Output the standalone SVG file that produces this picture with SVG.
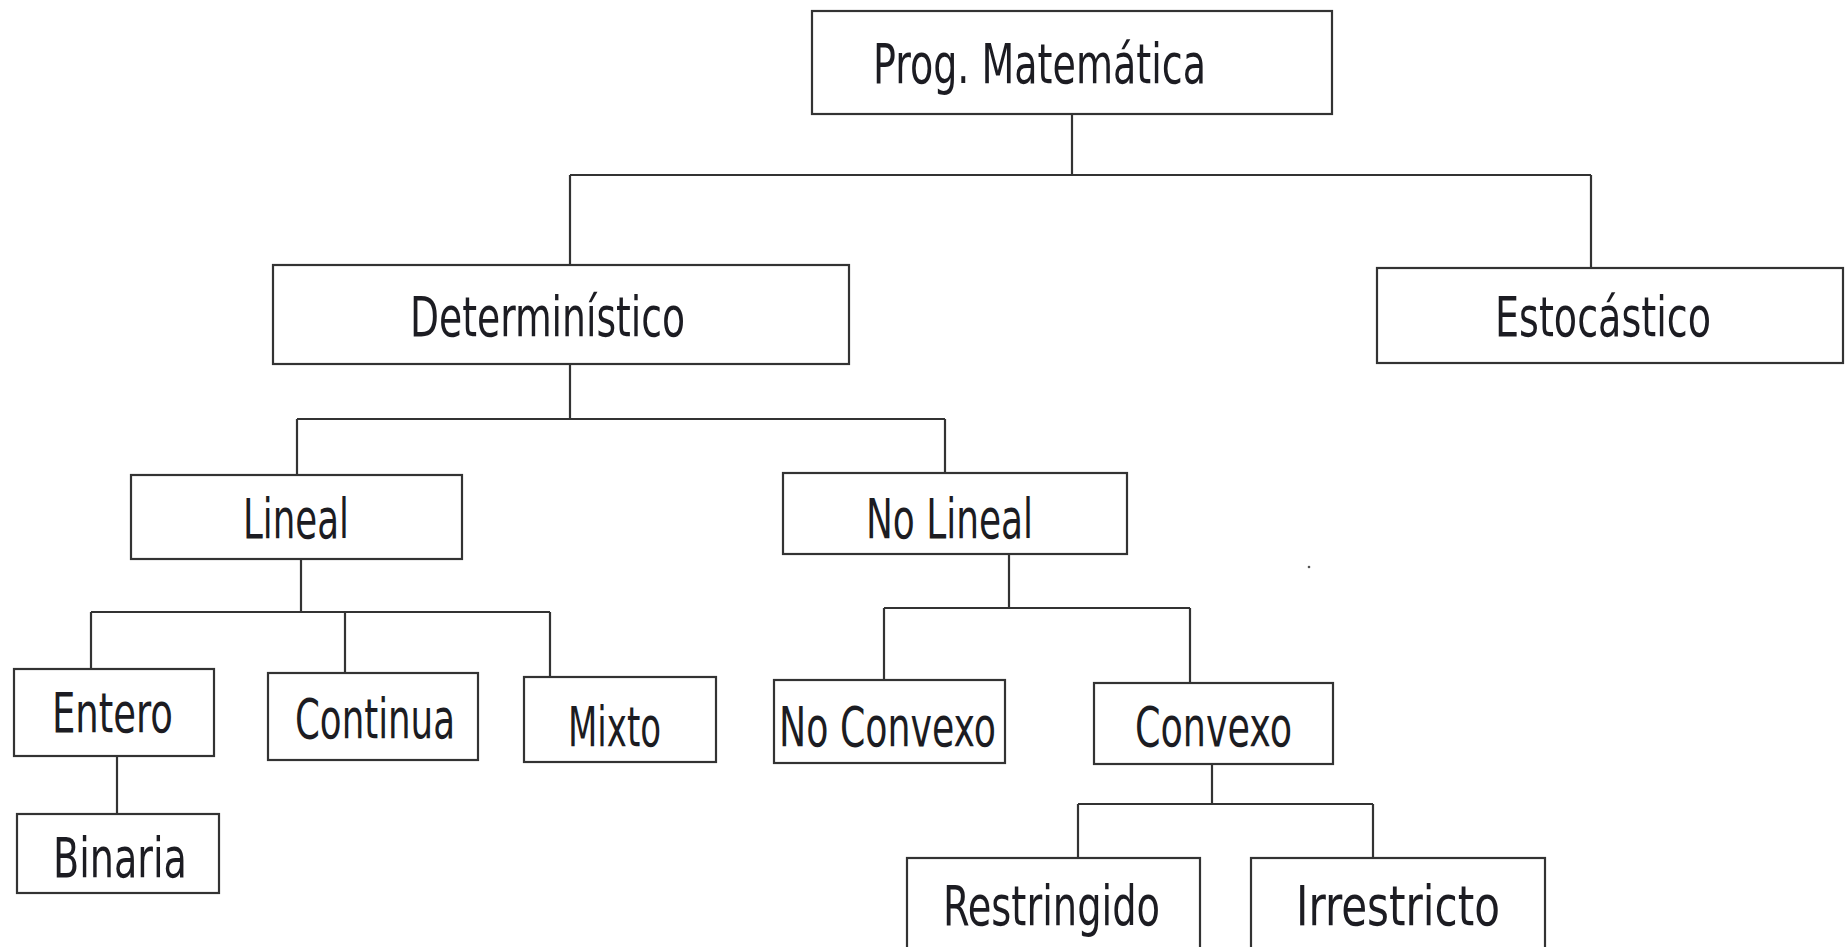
<svg xmlns="http://www.w3.org/2000/svg" width="1845" height="947" viewBox="0 0 1845 947">
<style>
.box{fill:#fff;stroke:#333;stroke-width:2.2}
.lbl{font-family:"DejaVu Sans Condensed","DejaVu Sans","Liberation Sans",sans-serif;font-stretch:condensed;font-size:56px;fill:#1c1c22}
.c{fill:none;stroke:#333;stroke-width:2.2}
</style>
<rect x="0" y="0" width="1845" height="947" fill="#fff"/>
<g id="connectors">
<path class="c" d="M1072 114V175M570 175H1591M570 175V265M1591 175V268"/>
<path class="c" d="M570 364V419M297 419H945M297 419V475M945 419V473"/>
<path class="c" d="M301 559V612M91 612H550M91 612V669M345 612V673M550 612V677"/>
<path class="c" d="M1009 554V608M884 608H1190M884 608V680M1190 608V683"/>
<path class="c" d="M117 756V814"/>
<path class="c" d="M1212 764V804M1078 804H1373M1078 804V858M1373 804V858"/>
</g>
<g id="n-prog"><rect class="box" x="812" y="11" width="520" height="103"/><text class="lbl" x="873" y="83" textLength="333" lengthAdjust="spacingAndGlyphs">Prog. Matemática</text></g>
<g id="n-det"><rect class="box" x="273" y="265" width="576" height="99"/><text class="lbl" x="410" y="336" textLength="275" lengthAdjust="spacingAndGlyphs">Determinístico</text></g>
<g id="n-esto"><rect class="box" x="1377" y="268" width="466" height="95"/><text class="lbl" x="1495" y="336" textLength="216" lengthAdjust="spacingAndGlyphs">Estocástico</text></g>
<g id="n-lineal"><rect class="box" x="131" y="475" width="331" height="84"/><text class="lbl" x="243" y="538" textLength="106" lengthAdjust="spacingAndGlyphs">Lineal</text></g>
<g id="n-nolineal"><rect class="box" x="783" y="473" width="344" height="81"/><text class="lbl" x="866" y="538" textLength="167" lengthAdjust="spacingAndGlyphs">No Lineal</text></g>
<g id="n-entero"><rect class="box" x="14" y="669" width="200" height="87"/><text class="lbl" x="52" y="732" textLength="121" lengthAdjust="spacingAndGlyphs">Entero</text></g>
<g id="n-continua"><rect class="box" x="268" y="673" width="210" height="87"/><text class="lbl" x="295" y="738" textLength="160" lengthAdjust="spacingAndGlyphs">Continua</text></g>
<g id="n-mixto"><rect class="box" x="524" y="677" width="192" height="85"/><text class="lbl" x="568" y="746" textLength="93" lengthAdjust="spacingAndGlyphs">Mixto</text></g>
<g id="n-noconvexo"><rect class="box" x="774" y="680" width="231" height="83"/><text class="lbl" x="779" y="746" textLength="217" lengthAdjust="spacingAndGlyphs">No Convexo</text></g>
<g id="n-convexo"><rect class="box" x="1094" y="683" width="239" height="81"/><text class="lbl" x="1135" y="746" textLength="157" lengthAdjust="spacingAndGlyphs">Convexo</text></g>
<g id="n-binaria"><rect class="box" x="17" y="814" width="202" height="79"/><text class="lbl" x="53" y="877" textLength="134" lengthAdjust="spacingAndGlyphs">Binaria</text></g>
<g id="n-restringido"><rect class="box" x="907" y="858" width="293" height="100"/><text class="lbl" x="943" y="925" textLength="217" lengthAdjust="spacingAndGlyphs">Restringido</text></g>
<g id="n-irrestricto"><rect class="box" x="1251" y="858" width="294" height="100"/><text class="lbl" x="1296" y="925" textLength="204" lengthAdjust="spacingAndGlyphs">Irrestricto</text></g>
<circle cx="1309" cy="567" r="1.3" fill="#555"/>
</svg>
